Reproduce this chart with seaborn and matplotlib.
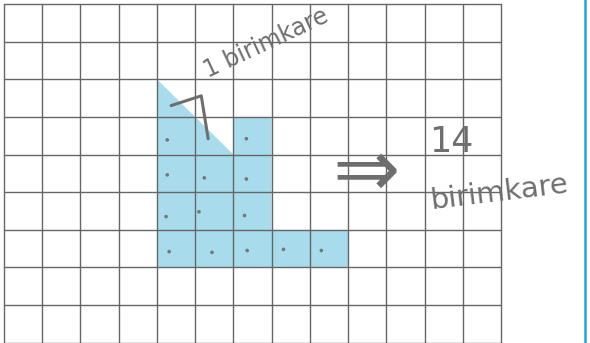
import matplotlib
matplotlib.use("Agg")
import matplotlib.pyplot as plt
import seaborn as sns
from matplotlib.patches import Polygon
from matplotlib.lines import Line2D

# Grid size (unit squares)
n_cols = 13
n_rows = 9

# Shaded shape corners, in grid units (y counted from the top)
shape_x = [4, 6, 6, 7, 7, 9, 9, 4]
shape_y = [2, 4, 3, 3, 6, 6, 7, 7]

# Counting dots, one per full unit square
dot_x = [4.27, 6.34, 4.27, 5.24, 6.34, 4.24, 5.1, 6.29, 4.32, 5.44, 6.36, 7.31, 8.3]
dot_y = [3.61, 3.58, 4.54, 4.62, 4.65, 5.65, 5.52, 5.62, 6.58, 6.6, 6.55, 6.52, 6.55]

# Hand-drawn pointer to the half square
pointer_x = [4.37, 5.16, 5.34]
pointer_y = [2.70, 2.44, 3.58]

label_unit = "1 birimkare"
label_total = "14"
label_total_unit = "birimkare"

sns.set_style("white")
plt.rcParams["font.family"] = ["DejaVu Sans"]

fig = plt.figure(figsize=(5.9, 3.43), dpi=100)
ax = fig.add_axes([4 / 590, 0.3 / 343, 497 / 590, 338.7 / 343])

ax.add_patch(Polygon(list(zip(shape_x, shape_y)), closed=True,
                     facecolor="#a8dcec", edgecolor="none", zorder=1))

ax.set_xlim(0, n_cols)
ax.set_ylim(n_rows, 0)
ax.set_xticks(range(n_cols + 1))
ax.set_yticks(range(n_rows + 1))
ax.tick_params(length=0, labelbottom=False, labelleft=False)
ax.grid(True, color="#666666", linewidth=1.0)
ax.set_axisbelow(False)
for spine in ax.spines.values():
    spine.set_visible(False)
for gl in ax.get_xgridlines() + ax.get_ygridlines():
    gl.set_clip_on(False)

sns.scatterplot(x=dot_x, y=dot_y, ax=ax, color="#777777", s=7,
                edgecolor="none", zorder=3)

ink = "#6e6e6e"
ax.plot(pointer_x, pointer_y, color=ink, linewidth=2.2,
        solid_capstyle="round", solid_joinstyle="round", zorder=4)

ax.text(6.85, 1.05, label_unit, color=ink, fontsize=17, rotation=25,
        ha="center", va="center", zorder=4)
ax.text(9.47, 4.5, "\u21d2", color=ink, fontsize=58,
        ha="center", va="center", zorder=4)
ax.text(11.7, 3.66, label_total, color=ink, fontsize=25,
        ha="center", va="center", zorder=4)
ax.text(12.95, 5.0, label_total_unit, color=ink, fontsize=21, rotation=7,
        ha="center", va="center", zorder=4)

fig.add_artist(Line2D([585 / 590, 585 / 590], [0, 1], color="#1ea2e2",
                      linewidth=1.8, transform=fig.transFigure))

fig.savefig("out.png", dpi=100)
